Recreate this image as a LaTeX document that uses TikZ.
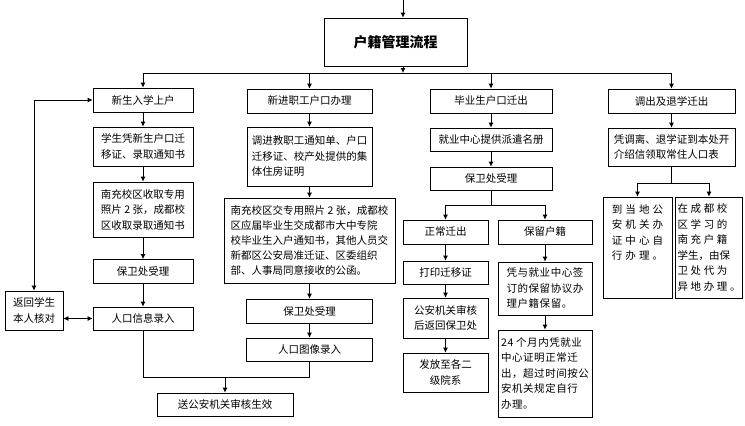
\documentclass[tikz,border=0pt]{standalone}
\usepackage{fontspec}
\setmainfont{Noto Sans CJK SC}
\usetikzlibrary{arrows.meta}

\begin{document}
\begin{tikzpicture}[x=1pt,y=-1pt,
  box/.style={draw,line width=0.8pt,inner sep=2pt,align=left,font=\fontsize{10.5}{15.5}\selectfont},
  arr/.style={line width=0.8pt,-{Latex[length=5pt,width=5pt]}},
  both/.style={line width=0.8pt,{Latex[length=5pt,width=5pt]}-{Latex[length=5pt,width=5pt]}},
  line/.style={line width=0.8pt}]
  \useasboundingbox (0,0) rectangle (745,426);

  % Title
  \coordinate (in) at (403,0);
  \coordinate (bus) at (403,73);
  \node[box,minimum width=143pt,minimum height=48pt,font=\fontsize{14}{16}\selectfont\bfseries] (title) at (395.5,42) {户籍管理流程};

  % New students
  \node[box,minimum width=100pt,minimum height=24pt] (xs1) at (143,100) {新生入学上户};
  \node[box,minimum width=100pt,minimum height=39pt] (xs2) at (143,146.5) {学生凭新生户口迁\\移证、录取通知书};
  \node[box,minimum width=100pt,minimum height=55pt] (xs3) at (143,209.5) {南充校区收取专用\\照片 2 张，成都校\\区收取录取通知书};
  \node[box,minimum width=100pt,minimum height=24pt] (xs4) at (143,271.5) {保卫处受理};
  \node[box,minimum width=100pt,minimum height=23pt] (xs5) at (143,318.5) {人口信息录入};
  \node[box,minimum width=58pt,minimum height=39pt] (hd) at (34,310.5) {返回学生\\本人核对};

  % New staff
  \node[box,minimum width=125pt,minimum height=24pt] (zg1) at (309.5,101) {新进职工户口办理};
  \node[box,minimum width=125pt,minimum height=59pt] (zg2) at (309.5,156.5) {调进教职工通知单、户口\\迁移证、校产处提供的集\\体住房证明};
  \node[box,minimum width=171pt,minimum height=85pt,font=\fontsize{10.5}{15}\selectfont] (zg3) at (309.5,240.5) {南充校区交专用照片 2 张，成都校\\区应届毕业生交成都市大中专院\\校毕业生入户通知书，其他人员交\\新都区公安局准迁证、区委组织\\部、人事局同意接收的公函。};
  \node[box,minimum width=126pt,minimum height=24pt] (zg4) at (309.5,311) {保卫处受理};
  \node[box,minimum width=126pt,minimum height=23pt] (zg5) at (309.5,349.5) {人口图像录入};

  % Result
  \coordinate (hz) at (225,377);
  \node[box,minimum width=136pt,minimum height=23pt] (final) at (225,404.5) {送公安机关审核生效};

  % Graduates
  \node[box,minimum width=122pt,minimum height=24pt] (by1) at (491,101) {毕业生户口迁出};
  \node[box,minimum width=122pt,minimum height=23pt] (by2) at (491,139.5) {就业中心提供派遣名册};
  \node[box,minimum width=122pt,minimum height=23pt] (by3) at (491,178.5) {保卫处受理};
  \coordinate (fz) at (491,205);
  \node[box,minimum width=85pt,minimum height=24pt] (by4) at (445.5,232) {正常迁出};
  \node[box,minimum width=94pt,minimum height=24pt] (by5) at (545,232) {保留户籍};
  \node[box,minimum width=85pt,minimum height=23pt] (by6) at (445.5,272.5) {打印迁移证};
  \node[box,minimum width=85pt,minimum height=40pt] (by7) at (445.5,318) {公安机关审核\\后返回保卫处};
  \node[box,minimum width=85pt,minimum height=39pt,align=center] (by8) at (445.5,372.5) {发放至各二\\级院系};
  \node[box,minimum width=94pt,minimum height=53pt,font=\fontsize{10.5}{15.5}\selectfont\addfontfeature{LetterSpace=5}] (by9) at (545,288.5) {凭与就业中心签\\订的保留协议办\\理户籍保留。};
  \node[box,minimum width=94pt,minimum height=87pt,font=\fontsize{10.5}{15.5}\selectfont\addfontfeature{LetterSpace=5}] (by10) at (545,373.5) {24 个月内凭就业\\中心证明正常迁\\出，超过时间按公\\安机关规定自行\\办理。};

  % Leaving
  \node[box,minimum width=127pt,minimum height=24pt] (dc1) at (671.5,101) {调出及退学迁出};
  \node[box,minimum width=127pt,minimum height=38pt] (dc2) at (671.5,147) {凭调离、退学证到本处开\\介绍信领取常住人口表};
  \coordinate (fz2) at (671.5,183);
  \node[box,minimum width=69pt,minimum height=101pt,font=\fontsize{10.5}{15.5}\selectfont\addfontfeature{LetterSpace=30}] (dc3) at (637.5,247.5) {到当地公\\安机关办\\证中心自\\行办理。\\\mbox{}\\\mbox{}};
  \node[box,minimum width=66pt,minimum height=101pt,font=\fontsize{10.5}{15.5}\selectfont\addfontfeature{LetterSpace=25}] (dc4) at (709,247.5) {在成都校\\区学习的\\南充户籍\\{\addfontfeature{LetterSpace=0}学生，由保}\\卫处代为\\异地办理。};

  % Connectors
  \draw[arr] (in) -- (in |- title.north);
  \draw[arr] (in |- title.south) -- (bus);
  \draw[line] (xs1.north |- bus) -- (dc1.north |- bus);
  \foreach \n in {xs1,zg1,by1,dc1} {
    \draw[arr] (\n.north |- bus) -- (\n.north);
  }
  \draw[arr] (xs1) -- (xs2);
  \draw[arr] (xs2) -- (xs3);
  \draw[arr] (xs3) -- (xs4);
  \draw[arr] (xs4) -- (xs5);
  \draw[both] (hd.north) |- (xs1.west);
  \draw[both] (hd.east |- xs5.west) -- (xs5.west);
  \draw[line] (xs5.south) |- (zg5.south |- hz) -- (zg5.south);
  \draw[arr] (hz) -- (final);

  \draw[arr] (zg1) -- (zg2);
  \draw[arr] (zg2) -- (zg3);
  \draw[arr] (zg3) -- (zg4);
  \draw[arr] (zg4) -- (zg5);

  \draw[arr] (by1) -- (by2);
  \draw[arr] (by2) -- (by3);
  \draw[line] (by3.south) -- (fz);
  \draw[line] (by4.north |- fz) -- (by5.north |- fz);
  \draw[arr] (by4.north |- fz) -- (by4.north);
  \draw[arr] (by5.north |- fz) -- (by5.north);
  \draw[arr] (by4) -- (by6);
  \draw[arr] (by6) -- (by7);
  \draw[arr] (by7) -- (by8);
  \draw[arr] (by5) -- (by9);
  \draw[arr] (by9) -- (by10);

  \draw[arr] (dc1) -- (dc2);
  \draw[line] (dc2.south) -- (fz2);
  \draw[line] (dc3.north |- fz2) -- (dc4.north |- fz2);
  \draw[arr] (dc3.north |- fz2) -- (dc3.north);
  \draw[arr] (dc4.north |- fz2) -- (dc4.north);
\end{tikzpicture}
\end{document}
